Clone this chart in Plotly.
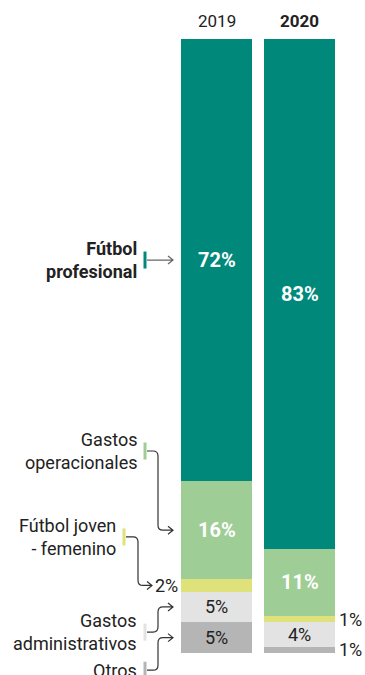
import plotly.graph_objects as go

# data (segments from bottom to top of each bar)
years = ["2019", "2020"]
segments = ["Otros", "Gastos administrativos", "Fútbol joven - femenino",
            "Gastos operacionales", "Fútbol profesional"]
share_2019 = [5, 5, 2, 16, 72]
share_2020 = [1, 4, 1, 11, 83]
colors = ["#b5b5b5", "#e3e3e3", "#dfe27a", "#9fcd96", "#00897b"]
label_text = ["Otros", "Gastos<br>administrativos", "Fútbol joven<br>- femenino",
              "Gastos<br>operacionales", "<b>Fútbol<br>profesional</b>"]

W, H = 365, 675
L, R, T = 175, 24, 39
PW = W - L - R
SCALE = 6.14          # pixels per percentage point
Y_MIN = -22 / SCALE   # leave room below bars for the last label


def px(x):
    # pixel x -> paper x
    return (x - L) / PW


def dy(p):
    # pixel distance -> data units on y
    return p / SCALE


fig = go.Figure()
for i, seg in enumerate(segments):
    fig.add_trace(go.Bar(
        x=years, y=[share_2019[i], share_2020[i]], name=seg,
        marker=dict(color=colors[i], line=dict(width=0)),
        hoverinfo="x+y+name",
    ))

annotations = []
# values inside / beside bars
for j, vals in enumerate([share_2019, share_2020]):
    base = 0
    for i, v in enumerate(vals):
        mid = base + v / 2
        base += v
        dark = i >= 3
        if v >= 4:
            t = f"<b>{v}%</b>" if dark else f"{v}%"
            annotations.append(dict(
                x=j, y=mid, xref="x", yref="y", text=t, showarrow=False,
                font=dict(size=20 if dark else 18, color="white" if dark else "#222")))
        elif j == 0:
            annotations.append(dict(
                x=px(180), y=mid, xref="paper", yref="y", text=f"{v}%",
                xanchor="right", showarrow=False,
                font=dict(size=18, color="#222")))
        else:
            annotations.append(dict(
                x=px(337), y=mid, xref="paper", yref="y", text=f"{v}%",
                xanchor="left", showarrow=False,
                font=dict(size=18, color="#222")))

# year headers
for j, t in enumerate(["2019", "<b>2020</b>"]):
    annotations.append(dict(x=j, y=1, xref="x", yref="paper", yanchor="bottom",
                            yshift=6, text=t, showarrow=False,
                            font=dict(size=17, color="#222")))

# left-hand labels
mids = []
acc = 0
for v in share_2019:
    mids.append(acc + v / 2)
    acc += v
label_y = [-2.8, 3.4, 18.9, 32.9, mids[4]]
text_right = [139, 139, 118, 139, 139]
tick_x = [145, 145, 124, 145, 145]
elbow_x = [158, 158, 138, 158, 158]
tip_x = [173, 173, 152, 173, 173]

shapes = []
r = 5
for i in range(len(segments)):
    ly, ty = label_y[i], mids[i]
    annotations.append(dict(
        x=px(text_right[i]), y=ly, xref="paper", yref="y", xanchor="right",
        yanchor="middle", align="right", text=label_text[i], showarrow=False,
        font=dict(size=18, color="#222")))
    shapes.append(dict(type="line", xref="paper", yref="y",
                       x0=px(tick_x[i]), x1=px(tick_x[i]),
                       y0=ly - dy(8.5), y1=ly + dy(8.5),
                       line=dict(color=colors[i], width=3)))
    x0 = px(tick_x[i] + 2)
    xt = px(tip_x[i])
    if abs(ty - ly) < 0.5:
        path = f"M {x0},{ty} L {xt},{ty}"
    else:
        xc = px(elbow_x[i])
        s = 1 if ty > ly else -1
        path = (f"M {x0},{ly} L {px(elbow_x[i] - r)},{ly} "
                f"Q {xc},{ly} {xc},{ly + s * dy(r)} "
                f"L {xc},{ty - s * dy(r)} "
                f"Q {xc},{ty} {px(elbow_x[i] + r)},{ty} L {xt},{ty}")
    path += (f" M {px(tip_x[i] - 5)},{ty + dy(4)} L {xt},{ty} "
             f"L {px(tip_x[i] - 5)},{ty - dy(4)}")
    shapes.append(dict(type="path", xref="paper", yref="y", path=path,
                       line=dict(color="#666" if i == 4 else "#333", width=1.2)))

fig.update_layout(
    width=W, height=H,
    margin=dict(l=L, r=R, t=T, b=0),
    barmode="stack", bargap=0.145,
    showlegend=False,
    plot_bgcolor="white", paper_bgcolor="white",
    xaxis=dict(type="category", range=[-0.5, 1.5], visible=False),
    yaxis=dict(range=[Y_MIN, 100], visible=False),
    annotations=annotations, shapes=shapes,
    font=dict(family="Roboto"),
)

fig.write_html("out.html", config={"displayModeBar": False},
               post_script="document.body.style.margin='0';")
